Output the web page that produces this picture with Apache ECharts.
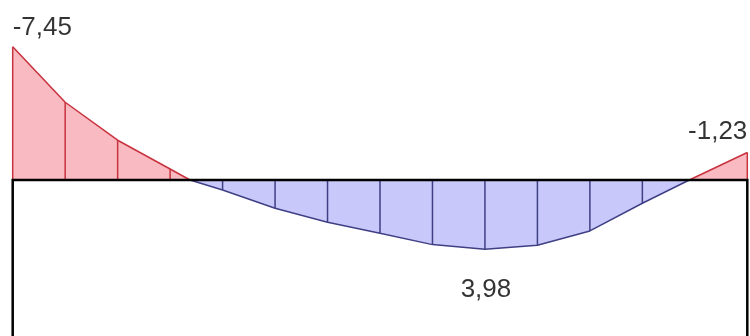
<!DOCTYPE html>
<html>
<head>
<meta charset="utf-8">
<script src="https://cdn.jsdelivr.net/npm/echarts@6/dist/echarts.min.js"></script>
<style>html,body{margin:0;padding:0;background:#fff}#c{width:750px;height:336px}</style>
</head>
<body>
<div id="c"></div>
<script>
// Stations along the beam (section index) and bending moment values (negative drawn upward)
const stations = [0, 1, 2, 3, 3.38, 4, 5, 6, 7, 8, 9, 10, 11, 12, 12.895, 14];
const moments  = [-7.40, -4.32, -2.21, -0.61, 0, 0.56, 1.57, 2.35, 2.96, 3.59, 3.85, 3.63, 2.83, 1.29, 0, -1.53];
// Stations with hatch lines
const hatchStations = [0, 1, 2, 3, 4, 5, 6, 7, 8, 9, 10, 11, 12, 14];
// Supports of the beam
const supports = [0, 14];
// Value labels
const labelStations = [0, 14, 9];
const labelTexts = ['-7,45', '-1,23', '3,98'];

const RED_FILL = '#f9bac1', RED_LINE = '#c8323e';
const BLUE_FILL = '#c8c8fa', BLUE_LINE = '#3f3f85';

function valAt(x) { return moments[stations.indexOf(x)]; }

// split into runs of same sign (zero points belong to both neighbours)
const runs = [];
let cur = [];
let curSign = 0;
for (let i = 0; i < stations.length; i++) {
  const v = moments[i];
  const s = v < 0 ? -1 : (v > 0 ? 1 : 0);
  if (s === 0) {
    cur.push([stations[i], v]);
    runs.push({ sign: curSign, pts: cur });
    cur = [[stations[i], v]];
    curSign = 0;
  } else {
    if (curSign === 0) curSign = s;
    cur.push([stations[i], v]);
  }
}
if (cur.length > 1) runs.push({ sign: curSign, pts: cur });

const areaSeries = runs.map(r => ({
  type: 'line',
  data: r.pts,
  symbol: 'none',
  silent: true,
  z: 2,
  lineStyle: { color: r.sign < 0 ? RED_LINE : BLUE_LINE, width: 1.5 },
  areaStyle: { color: r.sign < 0 ? RED_FILL : BLUE_FILL, opacity: 1 }
}));

const hatchSeries = {
  type: 'custom',
  silent: true,
  z: 3,
  data: hatchStations.map(x => [x, valAt(x)]),
  renderItem: function (params, api) {
    const x = api.value(0), v = api.value(1);
    const p0 = api.coord([x, 0]);
    const p1 = api.coord([x, v]);
    return {
      type: 'line',
      shape: { x1: p0[0], y1: p0[1], x2: p1[0], y2: p1[1] },
      style: { stroke: v < 0 ? RED_LINE : BLUE_LINE, lineWidth: 1.5 }
    };
  }
};

const frameSeries = {
  type: 'custom',
  silent: true,
  z: 5,
  data: [supports],
  renderItem: function (params, api) {
    const a = api.coord([api.value(0), 0]);
    const b = api.coord([api.value(1), 0]);
    const bottom = params.coordSys.y + params.coordSys.height;
    return {
      type: 'polyline',
      shape: { points: [[a[0], bottom], a, b, [b[0], bottom]] },
      style: { stroke: '#000', lineWidth: 2.5, fill: null }
    };
  }
};

const labelCfg = [
  { position: [0, -18.5], align: 'left' },
  { position: [0, -21], align: 'right' },
  { position: [1, 41], align: 'center' }
];
const labelSeries = {
  type: 'scatter',
  symbolSize: 0,
  silent: true,
  z: 6,
  data: labelStations.map((x, i) => ({
    value: [x, valAt(x)],
    label: {
      show: true,
      formatter: labelTexts[i],
      position: labelCfg[i].position,
      align: labelCfg[i].align,
      verticalAlign: 'middle',
      fontFamily: 'Liberation Sans, Arial, sans-serif',
      fontSize: 26,
      color: '#000'
    }
  }))
};

const chart = echarts.init(document.getElementById('c'), null, { renderer: 'canvas' });
chart.setOption({
  animation: false,
  backgroundColor: '#fff',
  grid: { left: 12.7, right: 2.7, top: 0, bottom: 0 },
  xAxis: {
    type: 'value', min: 0, max: 14,
    axisLine: { show: false }, axisTick: { show: false },
    axisLabel: { show: false }, splitLine: { show: false }
  },
  yAxis: {
    type: 'value', inverse: true, min: -10, max: 26 / 3,
    show: false, splitLine: { show: false }
  },
  series: [...areaSeries, hatchSeries, frameSeries, labelSeries]
});
</script>
</body>
</html>
